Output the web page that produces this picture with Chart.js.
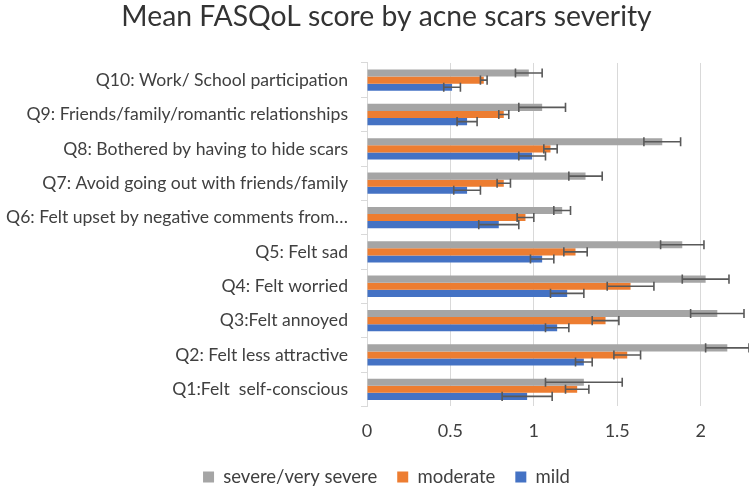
<!DOCTYPE html>
<html>
<head>
<meta charset="utf-8">
<script src="https://cdn.jsdelivr.net/npm/chart.js@4/dist/chart.umd.min.js"></script>
<style>
  html, body { margin: 0; padding: 0; background: #ffffff; }
  #wrap { width: 749px; height: 489px; }
</style>
</head>
<body>
<div id="wrap"><canvas id="chart" width="749" height="489"></canvas></div>
<script>
// Categories, top to bottom as drawn
const questions = [
    'Q10: Work/ School participation',
    'Q9: Friends/family/romantic relationships',
    'Q8: Bothered by having to hide scars',
    'Q7: Avoid going out with friends/family',
    'Q6: Felt upset by negative comments from\u2026',
    'Q5: Felt sad',
    'Q4: Felt worried',
    'Q3:Felt annoyed',
    'Q2: Felt less attractive',
    'Q1:Felt  self-conscious',
];

const severeMeans = [0.97, 1.05, 1.77, 1.31, 1.17, 1.89, 2.03, 2.10, 2.16, 1.30];
const severeErr = [0.08, 0.14, 0.11, 0.10, 0.05, 0.13, 0.14, 0.16, 0.13, 0.23];

const moderateMeans = [0.70, 0.82, 1.10, 0.82, 0.95, 1.25, 1.58, 1.43, 1.56, 1.26];
const moderateErr = [0.02, 0.03, 0.04, 0.04, 0.05, 0.07, 0.14, 0.08, 0.08, 0.07];

const mildMeans = [0.51, 0.60, 0.99, 0.60, 0.79, 1.05, 1.20, 1.14, 1.30, 0.96];
const mildErr = [0.05, 0.06, 0.08, 0.08, 0.12, 0.07, 0.10, 0.07, 0.05, 0.15];

const xTicks = [0, 0.5, 1, 1.5, 2];

const COLORS = {
    gray: '#a5a5a5',
    orange: '#ed7d31',
    blue: '#4472c4',
    errbar: '#595959',
    grid: '#d9d9d9',
    text: '#404040',
};

const FONT = 'Lato, "Open Sans", sans-serif';

// draws +/- error bars at the end of each bar
const errorBars = {
    id: 'errorBars',
    afterDatasetsDraw(chart) {
        const { ctx, scales: { x } } = chart;
        ctx.save();
        ctx.strokeStyle = COLORS.errbar;
        ctx.lineWidth = 1.6;
        chart.data.datasets.forEach((ds, i) => {
            const meta = chart.getDatasetMeta(i);
            meta.data.forEach((bar, j) => {
                const v = ds.data[j];
                const e = ds.errors[j];
                const lo = x.getPixelForValue(v - e);
                const hi = x.getPixelForValue(v + e);
                const y = bar.y;
                const h = bar.height / 2 + 1;
                ctx.beginPath();
                ctx.moveTo(lo, y);
                ctx.lineTo(hi, y);
                ctx.moveTo(lo, y - h);
                ctx.lineTo(lo, y + h);
                ctx.moveTo(hi, y - h);
                ctx.lineTo(hi, y + h);
                ctx.stroke();
            });
        });
        ctx.restore();
    },
};

// the original centres title and legend a bit right of the canvas middle
const shiftHeaders = {
    id: 'shiftHeaders',
    afterLayout(chart) {
        chart.titleBlock.left += 24;
        chart.legend.left += 24;
    },
};

new Chart(document.getElementById('chart'), {
    type: 'bar',
    data: {
        labels: questions,
        datasets: [
            { label: 'severe/very severe', data: severeMeans, errors: severeErr, backgroundColor: COLORS.gray },
            { label: 'moderate', data: moderateMeans, errors: moderateErr, backgroundColor: COLORS.orange },
            { label: 'mild', data: mildMeans, errors: mildErr, backgroundColor: COLORS.blue },
        ],
    },
    options: {
        indexAxis: 'y',
        responsive: false,
        animation: false,
        devicePixelRatio: 1,
        // negative bottom pushes the legend row down to where Excel had it
        layout: { padding: { left: 0, right: 0, top: 0, bottom: -7.25 } },
        datasets: {
            bar: { categoryPercentage: 0.62, barPercentage: 1.0, borderWidth: 0 },
        },
        plugins: {
            title: {
                display: true,
                text: 'Mean FASQoL score by acne scars severity',
                color: '#333333',
                font: { family: FONT, size: 28.3, weight: 'normal' },
                padding: { top: 0, bottom: 29 },
            },
            legend: {
                position: 'bottom',
                labels: {
                    color: COLORS.text,
                    font: { family: FONT, size: 18.5 },
                    boxWidth: 11,
                    boxHeight: 11,
                    padding: 20,
                },
            },
            tooltip: { enabled: false },
        },
        scales: {
            x: {
                min: 0,
                max: 2.29,
                afterBuildTicks(scale) {
                    scale.ticks = xTicks.map(v => ({ value: v }));
                },
                afterFit(scale) { scale.height = 41.25; },
                grid: { color: COLORS.grid, lineWidth: 1, drawTicks: false },
                border: { display: false },
                ticks: {
                    color: COLORS.text,
                    padding: 14.2,
                    font: { family: FONT, size: 18 },
                    callback: v => String(v),
                },
            },
            y: {
                afterFit(scale) { scale.width = 367; },
                grid: {
                    drawOnChartArea: false,
                    drawTicks: true,
                    tickLength: 6,
                    color: COLORS.grid,
                },
                border: { color: COLORS.grid },
                ticks: {
                    color: COLORS.text,
                    padding: 13,
                    font: { family: FONT, size: 17.6 },
                    autoSkip: false,
                },
            },
        },
    },
    plugins: [errorBars, shiftHeaders],
});
</script>
</body>
</html>
